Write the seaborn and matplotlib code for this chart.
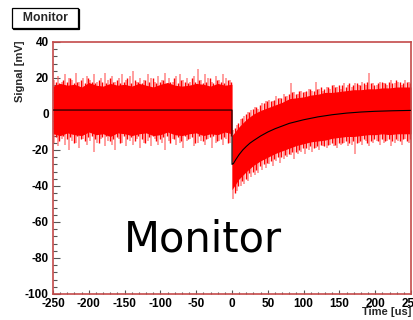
import numpy as np
import matplotlib
matplotlib.use("Agg")
import matplotlib.pyplot as plt
import seaborn as sns
from matplotlib.ticker import MultipleLocator

# ---------------- data ----------------
# mean signal (black line)
mean_t = [-250, -100, 0, 0, 2, 5, 10, 15, 20, 25, 30, 40, 50, 60, 80, 100,
          120, 140, 160, 180, 200, 225, 250]
mean_v = [2.2, 2.2, 2.2, -28, -27.5, -25.5, -22.5, -20, -18, -16.2, -14.8,
          -12.2, -10, -8.2, -5.2, -3.2, -1.6, -0.4, 0.5, 1.1, 1.5, 1.8, 2.0]

# dense noise core (solid red band), before and after t = 0
core_pre_t = [-250, -240, -230, -220, -210, -200, -190, -180, -170, -160, -150,
              -140, -130, -120, -110, -100, -90, -80, -70, -60, -50, -40, -30,
              -20, -10, 0]
core_pre_hi = [15.5, 17, 16, 16.5, 15, 17.5, 16, 15.5, 17, 16, 16.5, 15.5, 17,
               16, 15, 16.5, 17.5, 16, 15.5, 16, 17, 16.5, 15.5, 17, 16, 16.5]
core_pre_lo = [-11, -12, -10.5, -11.5, -12, -10, -11.5, -11, -12.5, -10.5, -11,
               -12, -11, -10.5, -12, -11.5, -10, -11.5, -12, -11, -10.5, -12,
               -11, -11.5, -10, -11]
core_post_t = [0, 10, 20, 30, 40, 50, 60, 70, 80, 90, 100, 110, 120, 130, 140,
               150, 160, 170, 180, 190, 200, 210, 220, 230, 240, 250]
core_post_hi = [-12, -7, -3, 0, 2, 3.5, 5, 6.5, 8.5, 9, 9.5, 10.5, 11, 12, 12,
                12.5, 13, 13.5, 13.5, 14, 14, 14.5, 14.5, 15, 15, 15]
core_post_lo = [-42, -36, -32, -28.5, -26, -24, -22, -20.5, -19, -17.5, -16.5,
                -15.5, -15, -14.5, -13.5, -13, -12.5, -12.5, -12, -11.5, -11.5,
                -11, -11.5, -11, -11, -11]

# outer noise spikes (light red)
spike_t = list(range(-248, 0, 5)) + list(range(2, 250, 5))
spike_hi = [19, 21, 18, 22, 20, 19, 23, 18, 20, 21,
            19, 22, 18, 20, 23, 19, 21, 18, 20, 22,
            19, 21, 24, 18, 20, 19, 22, 20, 18, 21,
            19, 23, 20, 18, 21, 22, 19, 20, 18, 21,
            25, 19, 22, 20, 18, 21, 19, 22, 20, 19,
            -9, -6, -3, -1, 1, 2, 4, 3, 6, 7,
            8, 7, 10, 9, 11, 10, 17, 12, 11, 13,
            12, 14, 13, 18, 14, 13, 15, 14, 16, 15,
            14, 17, 16, 15, 17, 16, 18, 16, 23, 17,
            16, 18, 17, 16, 19, 17, 18, 16, 19, 18]
spike_lo = [-16, -18, -14, -17, -20, -15, -16, -19, -14, -17,
            -15, -21, -16, -14, -18, -15, -17, -20, -14, -16,
            -18, -15, -17, -14, -19, -16, -15, -18, -14, -17,
            -16, -20, -15, -14, -17, -16, -19, -15, -14, -18,
            -16, -15, -17, -14, -19, -16, -15, -17, -14, -16,
            -47, -43, -40, -39, -37, -35, -34, -33, -31, -30,
            -28, -29, -26, -27, -25, -24, -23, -25, -22, -21,
            -22, -20, -21, -19, -20, -18, -19, -17, -18, -19,
            -17, -16, -18, -17, -22, -16, -17, -15, -18, -16,
            -15, -17, -16, -15, -18, -16, -15, -17, -14, -16]

# inner noise spikes (solid red), between core and outer spikes
spike2_t = list(range(-246, 0, 5)) + list(range(4, 250, 5))
spike2_hi = [18, 17, 19, 18, 20, 17, 18, 19, 17, 20,
             18, 17, 19, 18, 17, 20, 18, 19, 17, 18,
             20, 17, 19, 18, 17, 19, 18, 20, 17, 18,
             19, 17, 18, 20, 17, 19, 18, 17, 20, 18,
             19, 17, 18, 20, 17, 19, 18, 17, 19, 18,
             -8, -5, -2, 0, 1, 3, 4, 5, 6, 7,
             7, 8, 9, 9, 10, 11, 12, 11, 13, 12,
             13, 14, 13, 14, 15, 14, 15, 16, 15, 16,
             16, 15, 17, 16, 17, 16, 17, 18, 17, 16,
             17, 18, 17, 18, 17, 19, 18, 17, 18, 17]
spike2_lo = [-13, -15, -12, -14, -13, -16, -12, -14, -15, -13,
             -12, -14, -16, -13, -12, -15, -14, -13, -16, -12,
             -14, -13, -15, -12, -14, -16, -13, -12, -15, -14,
             -13, -12, -16, -14, -13, -15, -12, -14, -13, -16,
             -12, -15, -14, -13, -12, -15, -14, -13, -16, -12,
             -44, -40, -37, -36, -33, -32, -31, -29, -28, -27,
             -26, -25, -24, -24, -23, -22, -21, -21, -20, -19,
             -19, -18, -19, -18, -17, -18, -17, -16, -17, -16,
             -16, -15, -16, -15, -16, -15, -14, -16, -15, -14,
             -15, -14, -15, -14, -15, -14, -15, -14, -15, -14]

x_ticks = [-250, -200, -150, -100, -50, 0, 50, 100, 150, 200, 250]
y_ticks = [40, 20, 0, -20, -40, -60, -80, -100]

# ---------------- figure ----------------
sns.set_theme(style="white")
plt.rcParams['font.family'] = ['Liberation Sans', 'DejaVu Sans']

fig = plt.figure(figsize=(4.13, 3.2), dpi=100)
ax = fig.add_axes([53 / 413, 26 / 320, 358 / 413, 252 / 320])

red = '#ff0000'
ax.vlines(spike_t, spike_lo, spike_hi, color='#ff5a5a', lw=1.1, alpha=0.75, zorder=1)
ax.vlines(spike2_t, spike2_lo, spike2_hi, color=red, lw=1.0, zorder=2)
ax.fill_between(core_pre_t, core_pre_lo, core_pre_hi, color=red, lw=0, zorder=2)
ax.fill_between(core_post_t, core_post_lo, core_post_hi, color=red, lw=0, zorder=2)
sns.lineplot(x=mean_t, y=mean_v, estimator=None, sort=False, color='black',
             lw=0.8, ax=ax, zorder=3)

ax.set_xlim(-250, 250)
ax.set_ylim(-100, 40)
ax.set_xticks(x_ticks)
ax.set_yticks(y_ticks)
ax.set_xticklabels([str(v) for v in x_ticks])
ax.set_yticklabels([str(v) for v in y_ticks])
ax.xaxis.set_minor_locator(MultipleLocator(10))
ax.yaxis.set_minor_locator(MultipleLocator(4))

for s in ax.spines.values():
    s.set_color('#c44a4a')
    s.set_linewidth(1.2)

ax.tick_params(axis='both', which='both', direction='in', colors='#555555',
               labelcolor='black', width=0.8)
ax.tick_params(axis='x', which='major', length=3, pad=3, labelsize=8.5)
ax.tick_params(axis='x', which='minor', length=1.5)
ax.tick_params(axis='y', which='major', length=5, pad=3, labelsize=8.5)
ax.tick_params(axis='y', which='minor', length=2.6)
ax.tick_params(bottom=True, left=True, top=False, right=False)
ax.tick_params(which='minor', bottom=True, left=True)
for lab in ax.get_xticklabels() + ax.get_yticklabels():
    lab.set_fontweight('bold')

ax.set_xlabel('')
ax.set_ylabel('')
fig.text(20 / 413, 1 - 40 / 320, 'Signal [mV]', rotation=90, ha='center',
         va='top', fontsize=8, fontweight='bold')
fig.text(411 / 413, 1 - 312 / 320, 'Time [us]', ha='right', va='center',
         fontsize=8, fontweight='bold')

# title box with shadow (ROOT style)
fig.text(46 / 413, 1 - 19 / 320, '  Monitor  ', ha='center', va='center',
         fontsize=8.8, fontweight='bold', color='black', zorder=1,
         bbox=dict(boxstyle='square,pad=0.3', fc='black', ec='black', lw=0.9))
fig.text(45 / 413, 1 - 18 / 320, '  Monitor  ', ha='center', va='center',
         fontsize=8.8, fontweight='bold', zorder=2,
         bbox=dict(boxstyle='square,pad=0.3', fc='white', ec='black', lw=0.9))

# large overlay label
fig.text(203 / 413, 1 - 240 / 320, 'Monitor', ha='center', va='center',
         fontsize=30, family='DejaVu Sans', color='black', zorder=5)

fig.savefig('out.png', dpi=100)
